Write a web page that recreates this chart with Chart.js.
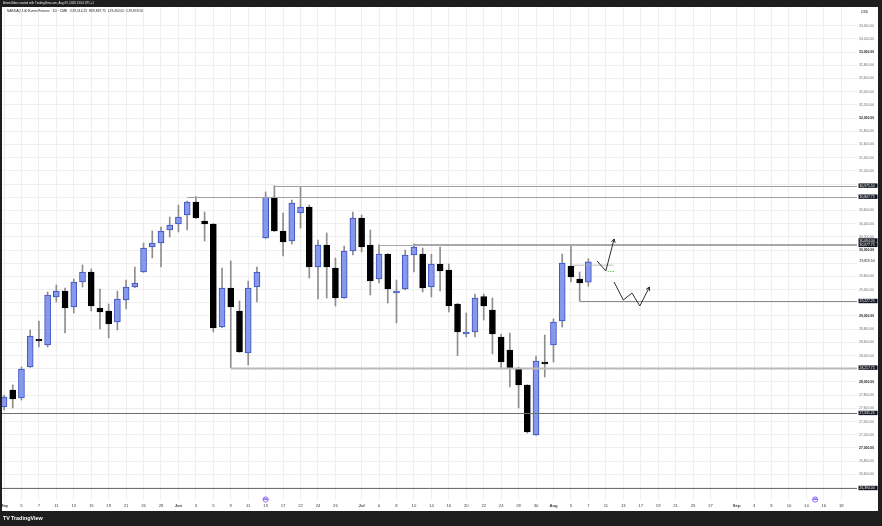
<!DOCTYPE html>
<html>
<head>
<meta charset="utf-8">
<script src="https://cdn.jsdelivr.net/npm/chart.js@4.4.1/dist/chart.umd.min.js"></script>
<style>
  html, body { margin: 0; padding: 0; background: #1e1e1e; }
  #wrap { width: 882px; height: 526px; }
</style>
</head>
<body>
<div id="wrap"><canvas id="chart" width="882" height="526"></canvas></div>
<script>
// trading days shown on the time axis (May 1 .. Sep 22, 2026)
const days = [
  "2026-05-01","2026-05-04","2026-05-05","2026-05-06","2026-05-07","2026-05-08","2026-05-11","2026-05-12","2026-05-13","2026-05-14",
  "2026-05-15","2026-05-18","2026-05-19","2026-05-20","2026-05-21","2026-05-22","2026-05-26","2026-05-27","2026-05-28","2026-05-29",
  "2026-06-01","2026-06-02","2026-06-03","2026-06-04","2026-06-05","2026-06-08","2026-06-09","2026-06-10","2026-06-11","2026-06-12",
  "2026-06-15","2026-06-16","2026-06-17","2026-06-18","2026-06-22","2026-06-23","2026-06-24","2026-06-25","2026-06-26","2026-06-29",
  "2026-06-30","2026-07-01","2026-07-02","2026-07-06","2026-07-07","2026-07-08","2026-07-09","2026-07-10","2026-07-13","2026-07-14",
  "2026-07-15","2026-07-16","2026-07-17","2026-07-20","2026-07-21","2026-07-22","2026-07-23","2026-07-24","2026-07-27","2026-07-28",
  "2026-07-29","2026-07-30","2026-07-31","2026-08-03","2026-08-04","2026-08-05","2026-08-06","2026-08-07","2026-08-10","2026-08-11",
  "2026-08-12","2026-08-13","2026-08-14","2026-08-17","2026-08-18","2026-08-19","2026-08-20","2026-08-21","2026-08-24","2026-08-25",
  "2026-08-26","2026-08-27","2026-08-28","2026-08-31","2026-09-01","2026-09-02","2026-09-03","2026-09-04","2026-09-08","2026-09-09",
  "2026-09-10","2026-09-11","2026-09-14","2026-09-15","2026-09-16","2026-09-17","2026-09-18","2026-09-21","2026-09-22"
];

// days that get a label on the time axis
const xTickDays = [
  "2026-05-01","2026-05-05","2026-05-07","2026-05-11","2026-05-13","2026-05-15","2026-05-19","2026-05-21","2026-05-26","2026-05-28",
  "2026-06-01","2026-06-03","2026-06-05","2026-06-09","2026-06-11","2026-06-15","2026-06-17","2026-06-22","2026-06-24","2026-06-26",
  "2026-07-01","2026-07-06","2026-07-08","2026-07-10","2026-07-14","2026-07-16","2026-07-20","2026-07-22","2026-07-24","2026-07-28",
  "2026-07-30","2026-08-03","2026-08-05","2026-08-07","2026-08-11","2026-08-13","2026-08-17","2026-08-19","2026-08-21","2026-08-25",
  "2026-08-27","2026-09-01","2026-09-03","2026-09-08","2026-09-10","2026-09-14","2026-09-16","2026-09-18"
];

// daily OHLC, May 1 .. Aug 7
const opens = [
  27621, 27879, 27758, 28227, 28651, 28561, 29288, 29379, 29136, 29515,
  29667, 29121, 29076, 28909, 29242, 29439, 29667, 30045, 30106, 30303,
  30394, 30530, 30727, 30439, 30394, 28833, 29424, 29076, 28439, 29439,
  30182, 30803, 30288, 30136, 30561, 30651, 29742, 30076, 29727, 29273,
  29985, 30485, 30076, 29560, 29939, 29348, 29409, 29924, 29939, 29439,
  29788, 29697, 29182, 28727, 28758, 29295, 29091, 28682, 28485, 28197,
  27955, 27197, 28303, 28561, 28924, 29757, 29560, 29514.25
];
const highs = [
  27803, 27955, 28227, 28788, 28924, 29364, 29470, 29424, 29560, 29773,
  29712, 29409, 29182, 29379, 29545, 29742, 30106, 30288, 30348, 30500,
  30682, 30742, 30807.75, 30576, 30400, 29727, 29833, 29227, 29530, 29742,
  30879, 30975.5, 30561, 30757, 30955, 30682, 30151, 30258, 29879, 30061,
  30576, 30530, 30303, 30077.75, 29945, 29545, 30000, 30094, 30030, 29935,
  30045, 29788, 29190, 29045, 29333, 29333, 29273, 28727, 28742, 28227,
  27960, 28394, 28712, 28955, 29939, 30061, 29667, 29867.75
];
const lows = [
  27576, 27606, 27727, 28220, 28530, 28530, 29212, 28742, 29045, 29439,
  29076, 28803, 28667, 28788, 29106, 29430, 29660, 29879, 29742, 30197,
  30273, 30303, 30480, 30136, 28758, 28825, 28217.75, 28450, 28258, 29212,
  30175, 30280, 29909, 30091, 30333, 29576, 29257, 29273, 29151, 29265,
  29924, 29970, 29318, 29500, 29197, 28894, 29394, 29667, 29364, 29288,
  29379, 29061, 28400, 28682, 28682, 28939, 28424, 28212, 27924, 27606,
  27227, 27190, 28076, 28303, 28833, 29515, 29227.25, 29450.5
];
const closes = [
  27773, 27742, 28197, 28697, 28621, 29318, 29379, 29121, 29515, 29667,
  29151, 29061, 28879, 29257, 29439, 29500, 30030, 30106, 30288, 30379,
  30500, 30727, 30485, 30394, 28818, 29424, 29136, 28455, 29424, 29667,
  30803, 30288, 30121, 30712, 30651, 29742, 30076, 29742, 29273, 29985,
  30485, 30045, 29530, 29939, 29409, 29379, 29924, 30045, 29424, 29788,
  29682, 29151, 28758, 28758, 29273, 29151, 28727, 28303, 28212, 27955,
  27242, 28318, 28273, 28909, 29803, 29591, 29500, 29819.5
];

// price axis labels
const priceTicks = [
  26400, 26600, 26800, 27000, 27200, 27400, 27600, 27800, 28000, 28200,
  28400, 28600, 28800, 29000, 29200, 29400, 29600, 29800, 30000, 30200,
  30400, 30600, 30800, 31000, 31200, 31400, 31600, 31800, 32000, 32200,
  32400, 32600, 32800, 33000, 33200, 33400
];

// horizontal levels drawn on the chart and the day each one starts from
const levelPrices = [30975.50, 30807.75, 30094.00, 30077.75, 29227.25, 28217.75, 27531.25, 26394.00];
const levelFrom = ["2026-06-16", "2026-06-02", "2026-07-10", "2026-07-06", "2026-08-06", "2026-06-09", null, null];

// hand-drawn path arrows, [day index, price]
const arrowUp = [[68.0, 29833], [69.0, 29682], [69.95, 30167]];
const arrowZigzag = [[69.95, 29515], [71.0, 29242], [72.0, 29348], [72.9, 29152], [74.0, 29439]];

const eventDays = ["2026-06-15", "2026-09-15"];

const lastPrice = 29819.5;
const monthNames = ["Jan","Feb","Mar","Apr","May","Jun","Jul","Aug","Sep","Oct","Nov","Dec"];
const FONT = "'Liberation Sans', Arial, sans-serif";

const fmt = v => v.toFixed(2).replace(/\B(?=(\d{3})+(?!\d))/g, ",");
const isMonthStart = i => i === 0 || days[i].slice(5, 7) !== days[i - 1].slice(5, 7);
const xTickIdx = xTickDays.map(d => days.indexOf(d));

const upFill = "#8598ec", upLine = "#3c50c0", downFill = "#000000";

const bodies = opens.map((o, i) => ({ x: i, y: [o, closes[i]] }));
const wicks = lows.map((l, i) => ({ x: i, y: [l, highs[i]] }));

const tvDrawings = {
  id: "tvDrawings",
  beforeDraw(chart) {
    const c = chart.ctx;
    c.save();
    c.fillStyle = "#ffffff";
    c.fillRect(0, 0, 882, 526);
    c.restore();
  },
  afterDatasetsDraw(chart) {
    const c = chart.ctx, xs = chart.scales.x, ys = chart.scales.y, a = chart.chartArea;
    c.save();
    c.beginPath();
    c.rect(a.left, a.top, a.right - a.left, a.bottom - a.top);
    c.clip();

    // horizontal rays
    const styles = [
      ["#a0a0a0", 1.2], ["#a0a0a0", 1.2], ["#a8a8a8", 1], ["#a8a8a8", 1],
      ["#8c8c8c", 1], ["#b9b9b9", 2], ["#6e6e6e", 1], ["#6e6e6e", 1]
    ];
    levelPrices.forEach((p, k) => {
      const y = Math.round(ys.getPixelForValue(p)) + 0.5;
      const x0 = levelFrom[k] ? xs.getPixelForValue(days.indexOf(levelFrom[k])) : a.left;
      c.strokeStyle = styles[k][0];
      c.lineWidth = styles[k][1];
      c.beginPath();
      c.moveTo(x0, y);
      c.lineTo(a.right, y);
      c.stroke();
    });

    // small price line + marker near the last bar
    c.strokeStyle = "#b0b0b0";
    c.lineWidth = 0.8;
    c.beginPath();
    c.moveTo(xs.getPixelForValue(65.2), ys.getPixelForValue(29770));
    c.lineTo(xs.getPixelForValue(69.9), ys.getPixelForValue(29770));
    c.stroke();
    c.strokeStyle = "#4caf50";
    c.setLineDash([1.5, 1]);
    c.beginPath();
    c.moveTo(xs.getPixelForValue(69.2), ys.getPixelForValue(29675));
    c.lineTo(xs.getPixelForValue(69.95), ys.getPixelForValue(29675));
    c.stroke();
    c.setLineDash([]);

    // arrows
    const drawPath = pts => {
      const px = pts.map(([i, p]) => [xs.getPixelForValue(i), ys.getPixelForValue(p)]);
      c.strokeStyle = "#131722";
      c.lineWidth = 0.9;
      c.beginPath();
      px.forEach(([x, y], j) => (j ? c.lineTo(x, y) : c.moveTo(x, y)));
      c.stroke();
      const [x1, y1] = px[px.length - 2], [x2, y2] = px[px.length - 1];
      const ang = Math.atan2(y2 - y1, x2 - x1), L = 4;
      c.beginPath();
      c.moveTo(x2 - L * Math.cos(ang - 0.5), y2 - L * Math.sin(ang - 0.5));
      c.lineTo(x2, y2);
      c.lineTo(x2 - L * Math.cos(ang + 0.5), y2 - L * Math.sin(ang + 0.5));
      c.stroke();
    };
    drawPath(arrowUp);
    drawPath(arrowZigzag);
    c.restore();
  },
  afterDraw(chart) {
    const c = chart.ctx, xs = chart.scales.x, ys = chart.scales.y, a = chart.chartArea;
    c.save();

    // dark frame
    c.fillStyle = "#1e1e1e";
    c.fillRect(0, 0, 882, 7);
    c.fillRect(0, 511, 882, 15);
    c.fillRect(0, 0, 2, 526);
    c.fillRect(878, 0, 4, 526);

    c.textBaseline = "middle";

    // level labels on the price axis
    const pos = levelPrices.map(p => ys.getPixelForValue(p));
    for (let k = 1; k < pos.length; k++) {
      if (pos[k] - pos[k - 1] < 4.4) pos[k - 1] = pos[k] - 4.4;
    }
    c.font = "3.4px " + FONT;
    levelPrices.forEach((p, k) => {
      c.fillStyle = "#131722";
      c.fillRect(a.right + 1.5, pos[k] - 2.2, 19, 4.4);
      c.fillStyle = "#ffffff";
      c.textAlign = "left";
      c.fillText(fmt(p), a.right + 2.5, pos[k] + 0.2);
    });

    // last price
    c.fillStyle = "#131722";
    c.fillText(fmt(lastPrice), a.right + 2.5, ys.getPixelForValue(lastPrice) - 0.5);

    // currency
    c.fillText("USD", a.right + 4, 12);

    // event markers on the time axis
    eventDays.forEach(d => {
      const x = xs.getPixelForValue(days.indexOf(d)), y = a.bottom - 0.5;
      c.fillStyle = "#ffffff";
      c.strokeStyle = "#7c4dff";
      c.lineWidth = 0.8;
      c.beginPath();
      c.arc(x, y, 2.6, 0, Math.PI * 2);
      c.fill();
      c.stroke();
      c.beginPath();
      c.moveTo(x - 2.6, y);
      c.lineTo(x + 2.6, y);
      c.moveTo(x - 1.6, y - 1.2);
      c.lineTo(x + 1.6, y - 1.2);
      c.stroke();
    });

    // header & legend texts
    c.textAlign = "left";
    c.fillStyle = "#e6e6e6";
    c.font = "2.9px " + FONT;
    c.fillText("ArtemGabe created with TradingView.com, Aug 09, 2026 13:54 UTC+1", 3, 3.6);
    c.fillStyle = "#131722";
    c.font = "3.3px " + FONT;
    c.fillText("NASDAQ 100 E-mini Futures · 1D · CME   O29,514.25  H29,867.75  L29,450.50  C29,819.50", 7, 11);

    // watermark
    c.fillStyle = "#ffffff";
    c.font = "bold 5.4px " + FONT;
    c.fillText("TV", 3, 518.5);
    c.fillText("TradingView", 11, 518.5);
    c.restore();
  }
};

new Chart(document.getElementById("chart"), {
  type: "bar",
  data: {
    datasets: [
      {
        label: "body",
        data: bodies,
        grouped: false,
        barThickness: 6,
        borderWidth: 1,
        borderSkipped: false,
        backgroundColor: ctx => (closes[ctx.dataIndex] >= opens[ctx.dataIndex] ? upFill : downFill),
        borderColor: ctx => (closes[ctx.dataIndex] >= opens[ctx.dataIndex] ? upLine : downFill)
      },
      {
        label: "wick",
        data: wicks,
        grouped: false,
        barThickness: 1,
        borderWidth: 0,
        backgroundColor: "#8e8e8e"
      }
    ]
  },
  options: {
    responsive: false,
    animation: false,
    devicePixelRatio: 1,
    layout: { padding: { left: 2, top: 7, right: 4, bottom: 15 } },
    plugins: { legend: { display: false }, tooltip: { enabled: false } },
    scales: {
      x: {
        type: "linear",
        min: -0.23,
        max: 97.8,
        offset: false,
        afterBuildTicks: s => { s.ticks = xTickIdx.filter(i => i <= 97.8).map(i => ({ value: i })); },
        afterFit: s => { s.height = 11; s.paddingLeft = 0; s.paddingRight = 0; },
        border: { display: false },
        grid: { color: "#efefef", lineWidth: 1, drawTicks: false, offset: false },
        ticks: {
          autoSkip: false,
          maxRotation: 0,
          padding: 3.5,
          color: "#3a3d47",
          font: ctx => ({ family: FONT, size: 4.2, weight: ctx.tick && isMonthStart(ctx.tick.value) ? "bold" : "normal" }),
          callback: v => (isMonthStart(v) ? monthNames[+days[v].slice(5, 7) - 1] : String(+days[v].slice(8, 10)))
        }
      },
      y: {
        position: "right",
        min: 26212,
        max: 33682,
        afterBuildTicks: s => { s.ticks = priceTicks.map(v => ({ value: v })); },
        afterFit: s => { s.width = 21; s.paddingTop = 0; s.paddingBottom = 0; },
        border: { display: false },
        grid: { color: "#efefef", lineWidth: 1, drawTicks: false },
        ticks: {
          padding: 2,
          color: ctx => (ctx.tick && ctx.tick.value % 1000 === 0 ? "#131722" : "#6a6d78"),
          font: ctx => ({ family: FONT, size: 3.4, weight: ctx.tick && ctx.tick.value % 1000 === 0 ? "bold" : "normal" }),
          callback: v => {
            const near = levelPrices.concat([lastPrice]).some(p => Math.abs(p - v) < 50);
            return near ? "" : fmt(v);
          }
        }
      }
    }
  },
  plugins: [tvDrawings]
});
</script>
</body>
</html>
